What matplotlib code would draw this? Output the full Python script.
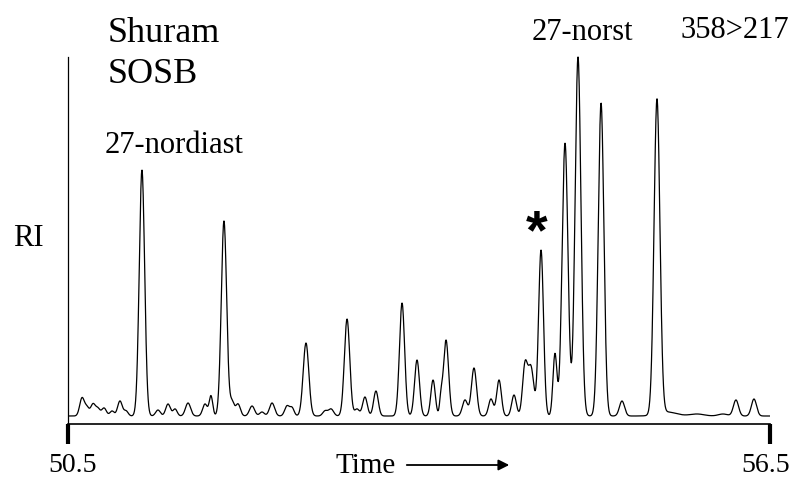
import numpy as np
import matplotlib
matplotlib.use("Agg")
import matplotlib.pyplot as plt

# ---- data ----
x_ticks = [50.5, 56.5]
x_tick_labels = ["50.5", "56.5"]
baseline_level = 8

# retention time (min), peak height (RI units), peak width (sigma, min)
peak_times = [50.620, 50.662, 50.714, 50.756, 50.808, 50.876, 50.944, 50.996,
              51.132, 51.269, 51.355, 51.415, 51.526, 51.671, 51.722,
              51.833, 51.902, 51.953, 52.073, 52.158, 52.244, 52.372, 52.415,
              52.534, 52.697, 52.748, 52.885, 52.970, 53.038, 53.132,
              53.355, 53.483, 53.620, 53.688, 53.731, 53.893, 53.970,
              54.115, 54.184, 54.312, 54.406, 54.457, 54.543, 54.662,
              54.748, 54.859, 55.056, 55.235, 55.534, 55.620, 55.876,
              56.098, 56.209, 56.363]
peak_heights = [18, 8, 12, 7, 8, 5, 15, 5,
                246, 6, 12, 7, 13, 12, 20,
                195, 14, 12, 10, 4, 13, 10, 8,
                73, 5, 7, 97, 7, 19, 25,
                113, 56, 36, 16, 76, 16, 48,
                17, 36, 21, 50, 48, 166, 62,
                273, 359, 313, 15, 315, 4, 2,
                2, 16, 17]
peak_widths = [0.020, 0.018, 0.020, 0.018, 0.020, 0.018, 0.020, 0.018,
                0.023, 0.020, 0.020, 0.018, 0.022, 0.020, 0.015,
                0.023, 0.018, 0.020, 0.022, 0.020, 0.022, 0.020, 0.018,
                0.024, 0.020, 0.022, 0.023, 0.020, 0.020, 0.020,
                0.022, 0.021, 0.019, 0.012, 0.022, 0.022, 0.022,
                0.020, 0.020, 0.020, 0.021, 0.024, 0.021, 0.017,
                0.025, 0.025, 0.024, 0.022, 0.025, 0.080, 0.060,
                0.040, 0.022, 0.022]

# ---- build trace ----
t = np.linspace(50.5, 56.5, 2400)
signal = np.full_like(t, float(baseline_level))
for c, h, w in zip(peak_times, peak_heights, peak_widths):
    signal += h * np.exp(-0.5 * ((t - c) / w) ** 2)

W, H = 796, 480
fig = plt.figure(figsize=(W / 100, H / 100), dpi=100)
ax = fig.add_axes([68 / W, 1 - 424 / H, (770 - 68) / W, (424 - 55) / H])
ax.plot(t, signal, color="black", lw=0.9)
ax.set_xlim(50.5, 56.5)
ax.set_ylim(0, 369)

for s in ["top", "right"]:
    ax.spines[s].set_visible(False)
ax.spines["left"].set_linewidth(0.9)
ax.spines["bottom"].set_linewidth(1.2)
ax.spines["left"].set_bounds(0, 367)
ax.set_yticks([])
ax.set_xticks(x_ticks)
ax.set_xticklabels([])
ax.tick_params(axis="x", direction="out", length=14.5, width=3.0)

serif = "Liberation Serif"
def ftext(px, py, s, size, ha="left", **kw):
    fig.text(px / W, 1 - py / H, s, fontsize=size, family=serif, ha=ha,
             va="baseline", **kw)

# tick labels, set slightly inward from their ticks as in the reference
ftext(73, 472, x_tick_labels[0], 20, ha="center")
ftext(766, 472, x_tick_labels[1], 20, ha="center")

ftext(108, 42, "Shuram", 26)
ftext(108, 83, "SOSB", 26)
ftext(105, 153, "27-nordiast", 22)
ftext(532, 40, "27-norst", 22)
ftext(680, 38, "358>217", 22)
ftext(13, 246, "RI", 22)
ftext(335, 473, "Time", 21)

fig.text(537 / W, 1 - 248 / H, "*", fontsize=40, family="Liberation Sans",
         fontweight="bold", ha="center", va="baseline")

ax.annotate("", xy=(512 / W, 1 - 465 / H), xytext=(404 / W, 1 - 465 / H),
            xycoords="figure fraction", textcoords="figure fraction",
            arrowprops=dict(arrowstyle="-|>", color="black", lw=1.3,
                            mutation_scale=16))

fig.savefig("out.png", dpi=100)
